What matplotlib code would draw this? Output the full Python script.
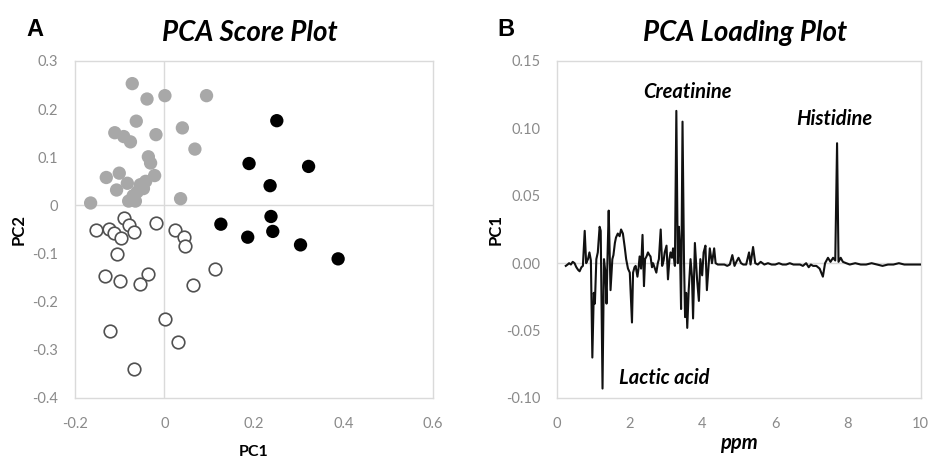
import matplotlib
matplotlib.use("Agg")
import matplotlib.pyplot as plt

plt.rcParams['font.family'] = ['Lato', 'DejaVu Sans']

# ---- Score plot data (PC1, PC2) for the three sample groups ----
group_gray_pc1 = [-0.072, -0.039, 0.001, 0.094, -0.063, 0.040, -0.111, -0.091, -0.076,
                  -0.019, 0.068, -0.036, -0.031, -0.022, -0.130, -0.101, -0.107, -0.083,
                  -0.054, -0.042, -0.061, -0.080, -0.065, -0.165, 0.036, -0.047, -0.070]
group_gray_pc2 = [0.253, 0.221, 0.228, 0.228, 0.175, 0.161, 0.151, 0.143, 0.132,
                  0.147, 0.117, 0.101, 0.088, 0.062, 0.058, 0.067, 0.032, 0.046,
                  0.043, 0.050, 0.028, 0.009, 0.009, 0.005, 0.014, 0.035, 0.020]

group_open_pc1 = [-0.091, -0.080, -0.152, -0.124, -0.113, -0.098, -0.067, -0.020, 0.023,
                  0.043, 0.045, -0.106, -0.132, -0.100, -0.037, -0.054, 0.063, 0.113,
                  0.001, -0.121, 0.031, -0.068]
group_open_pc2 = [-0.026, -0.040, -0.052, -0.050, -0.057, -0.068, -0.056, -0.037, -0.052,
                  -0.066, -0.085, -0.101, -0.147, -0.156, -0.142, -0.163, -0.166, -0.133,
                  -0.236, -0.261, -0.284, -0.340]

group_black_pc1 = [0.251, 0.189, 0.322, 0.236, 0.238, 0.126, 0.242, 0.186, 0.304, 0.388]
group_black_pc2 = [0.176, 0.087, 0.081, 0.041, -0.023, -0.039, -0.054, -0.066, -0.082, -0.111]

score_xticks = [-0.2, 0.0, 0.2, 0.4, 0.6]
score_xticklabels = ['-0.2', '0', '0.2', '0.4', '0.6']
score_yticks = [-0.4, -0.3, -0.2, -0.1, 0.0, 0.1, 0.2, 0.3]
score_yticklabels = ['-0.4', '-0.3', '-0.2', '-0.1', '0', '0.1', '0.2', '0.3']

# ---- Loading plot data: chemical shift (ppm) and PC1 loading, ten per row ----
loading_ppm = [
    0.24, 0.29, 0.33, 0.38, 0.43, 0.48, 0.53, 0.58, 0.62, 0.67,
    0.71, 0.76, 0.80, 0.85, 0.89, 0.93, 0.97, 1.01, 1.04, 1.08,
    1.12, 1.17, 1.20, 1.25, 1.29, 1.33, 1.36, 1.39, 1.42, 1.47,
    1.52, 1.55, 1.59, 1.62, 1.67, 1.72, 1.76, 1.81, 1.86, 1.90,
    1.95, 2.00, 2.06, 2.09, 2.13, 2.16, 2.21, 2.24, 2.27, 2.31,
    2.35, 2.39, 2.42, 2.46, 2.50, 2.54, 2.57, 2.61, 2.64, 2.69,
    2.73, 2.77, 2.80, 2.85, 2.89, 2.93, 2.96, 3.01, 3.05, 3.09,
    3.12, 3.16, 3.19, 3.24, 3.28, 3.32, 3.35, 3.38, 3.41, 3.45,
    3.49, 3.52, 3.55, 3.58, 3.62, 3.67, 3.71, 3.74, 3.79, 3.82,
    3.85, 3.90, 3.94, 3.99, 4.03, 4.08, 4.12, 4.17, 4.20, 4.26,
    4.32, 4.36, 4.42, 4.50, 4.60, 4.68, 4.75, 4.82, 4.88, 4.93,
    4.99, 5.06, 5.12, 5.20, 5.28, 5.32, 5.39, 5.45, 5.52, 5.60,
    5.70, 5.80, 5.90, 6.00, 6.10, 6.20, 6.30, 6.40, 6.50, 6.60,
    6.68, 6.76, 6.85, 6.92, 6.98, 7.04, 7.13, 7.22, 7.31, 7.37,
    7.45, 7.52, 7.59, 7.65, 7.70, 7.74, 7.80, 7.86, 7.95, 8.05,
    8.20, 8.35, 8.50, 8.65, 8.80, 8.95, 9.10, 9.25, 9.40, 9.55,
    9.70, 9.85, 10.00,
]
loading_pc1 = [
    -0.002, -0.001, 0.000, -0.001, 0.001, 0.000, -0.003, -0.005, -0.006, -0.003,
    -0.002, 0.024, 0.000, 0.003, 0.008, 0.002, -0.070, -0.022, -0.030, 0.003,
    0.008, 0.027, 0.024, -0.093, 0.003, -0.007, -0.030, 0.008, 0.039, -0.020,
    0.003, 0.006, 0.015, 0.019, 0.022, 0.020, 0.025, 0.022, 0.012, 0.003,
    -0.004, -0.007, -0.044, -0.007, -0.003, -0.002, -0.010, -0.004, 0.005, -0.004,
    0.021, -0.017, 0.003, 0.005, 0.008, 0.006, 0.005, -0.003, 0.000, -0.004,
    -0.007, 0.000, 0.003, 0.025, -0.002, 0.002, 0.008, 0.013, -0.012, 0.003,
    0.008, 0.004, 0.011, -0.002, 0.113, 0.000, 0.027, 0.010, -0.034, 0.105,
    0.003, -0.040, -0.022, -0.048, -0.020, 0.003, -0.010, -0.041, 0.015, 0.002,
    -0.012, -0.028, 0.003, -0.009, 0.008, 0.013, -0.020, 0.000, 0.011, 0.000,
    0.011, 0.000, -0.001, -0.001, -0.001, -0.002, -0.001, 0.006, -0.002, 0.001,
    0.004, 0.000, -0.001, -0.001, 0.008, -0.001, 0.012, 0.000, -0.001, 0.001,
    -0.001, 0.000, -0.001, -0.001, 0.000, -0.001, -0.001, 0.000, -0.001, -0.001,
    -0.001, -0.002, 0.000, -0.003, -0.001, -0.002, -0.002, -0.004, -0.010, 0.000,
    0.004, 0.001, 0.004, 0.002, 0.089, 0.001, 0.004, 0.001, 0.000, -0.001,
    0.000, -0.001, -0.001, 0.000, -0.001, -0.002, -0.001, -0.001, 0.000, -0.001,
    -0.001, -0.001, -0.001,
]

loading_xticks = [0, 2, 4, 6, 8, 10]
loading_xticklabels = ['0', '2', '4', '6', '8', '10']
loading_yticks = [-0.10, -0.05, 0.00, 0.05, 0.10, 0.15]
loading_yticklabels = ['-0.10', '-0.05', '0.00', '0.05', '0.10', '0.15']

frame_color = '#dadada'
tick_color = '#8a8a8a'

fig = plt.figure(figsize=(9.30, 4.61), dpi=100)
ax1 = fig.add_axes([0.0806, 0.1367, 0.385, 0.731])
ax2 = fig.add_axes([0.599, 0.1367, 0.391, 0.731])


def style_axes(ax):
    for sp in ax.spines.values():
        sp.set_color(frame_color)
        sp.set_linewidth(1.0)
    ax.tick_params(length=0, colors=tick_color, labelsize=10.5)
    ax.tick_params(axis='x', pad=14)
    ax.tick_params(axis='y', pad=12)


# Score plot
ax1.axhline(0, color=frame_color, lw=1.0, zorder=0)
ax1.axvline(0, color=frame_color, lw=1.0, zorder=0)
ax1.scatter(group_gray_pc1, group_gray_pc2, s=92, color='#a8a8a8', edgecolors='none', zorder=3)
ax1.scatter(group_open_pc1, group_open_pc2, s=82, facecolors='white', edgecolors='#505050',
            linewidths=1.2, zorder=3)
ax1.scatter(group_black_pc1, group_black_pc2, s=92, color='black', edgecolors='none', zorder=3)
ax1.set_xlim(-0.2, 0.6)
ax1.set_ylim(-0.4, 0.3)
ax1.set_xticks(score_xticks)
ax1.set_xticklabels(score_xticklabels)
ax1.set_yticks(score_yticks)
ax1.set_yticklabels(score_yticklabels)
style_axes(ax1)
ax1.set_xlabel('PC1', fontsize=11.5, fontweight='bold', labelpad=10)
ax1.set_ylabel('PC2', fontsize=12, fontweight='bold', labelpad=4)

# Loading plot
ax2.axhline(0, color=frame_color, lw=1.0, zorder=0)
ax2.plot(loading_ppm, loading_pc1, color='#111111', lw=1.5, zorder=3)
ax2.set_xlim(0, 10)
ax2.set_ylim(-0.10, 0.15)
ax2.set_xticks(loading_xticks)
ax2.set_xticklabels(loading_xticklabels)
ax2.set_yticks(loading_yticks)
ax2.set_yticklabels(loading_yticklabels)
style_axes(ax2)
ax2.set_xlabel('ppm', fontsize=14.5, fontweight='bold', style='italic', labelpad=1)
ax2.set_ylabel('PC1', fontsize=12, fontweight='bold', labelpad=2)

ann = dict(fontsize=14.5, fontweight='bold', style='italic', ha='center', va='center')
ax2.text(3.59, 0.127, 'Creatinine', **ann)
ax2.text(7.62, 0.107, 'Histidine', **ann)
ax2.text(2.96, -0.085, 'Lactic acid', **ann)

# Panel titles and letters
fig.text(250 / 930, 1 - 33 / 461, 'PCA Score Plot', fontsize=20, fontweight='bold',
         style='italic', ha='center', va='center')
fig.text(745 / 930, 1 - 33 / 461, 'PCA Loading Plot', fontsize=20, fontweight='bold',
         style='italic', ha='center', va='center')
fig.text(35 / 930, 1 - 29 / 461, 'A', fontsize=17, fontweight='bold', ha='center',
         va='center', family=['Liberation Sans', 'DejaVu Sans'])
fig.text(506 / 930, 1 - 29 / 461, 'B', fontsize=17, fontweight='bold', ha='center',
         va='center', family=['Liberation Sans', 'DejaVu Sans'])

fig.savefig('out.png', dpi=100)
